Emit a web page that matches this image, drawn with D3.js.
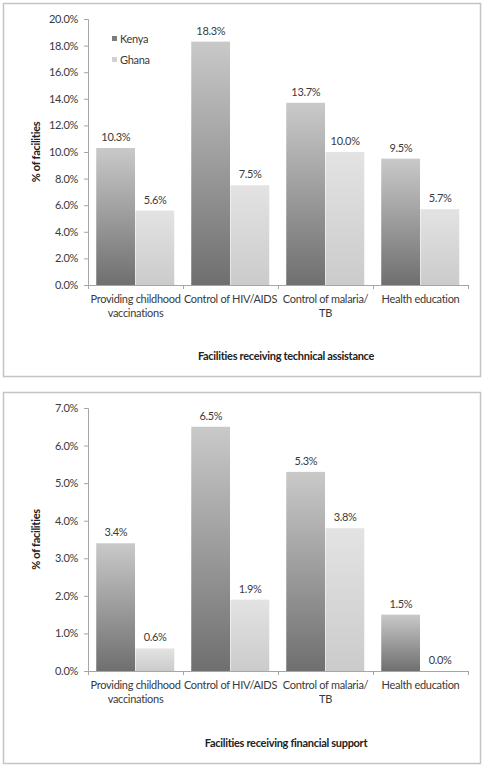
<!DOCTYPE html>
<html><head><meta charset="utf-8">
<script src="https://cdn.jsdelivr.net/npm/d3@7"></script>
<style>
body{margin:0;background:#fff;}
svg text{font-family:Lato,"Open Sans",sans-serif;letter-spacing:-0.3px;}
</style></head>
<body><svg id="c" width="484" height="767"></svg>
<script>
const categories = ["Providing childhood vaccinations","Control of HIV/AIDS","Control of malaria/ TB","Health education"];
const categoryLines = [["Providing childhood","vaccinations"],["Control of HIV/AIDS"],["Control of malaria/","TB"],["Health education"]];
const seriesNames = ["Kenya","Ghana"];
const techKenya = [10.3, 18.3, 13.7, 9.5];
const techGhana = [5.6, 7.5, 10.0, 5.7];
const finKenya = [3.4, 6.5, 5.3, 1.5];
const finGhana = [0.6, 1.9, 3.8, 0.0];
const techTicks = [0,2,4,6,8,10,12,14,16,18,20];
const finTicks = [0,1,2,3,4,5,6,7];
const yTitle = "% of facilities";
const techTitle = "Facilities receiving technical assistance";
const finTitle = "Facilities receiving financial support";

const svg = d3.select("#c");
const defs = svg.append("defs");
function grad(id, top, bottom){
  const g = defs.append("linearGradient").attr("id", id).attr("x1",0).attr("y1",0).attr("x2",0).attr("y2",1);
  g.append("stop").attr("offset","0%").attr("stop-color",top);
  g.append("stop").attr("offset","100%").attr("stop-color",bottom);
}
grad("gK","#c9c9c9","#6f6f6f");
grad("gG","#e3e3e3","#cbcbcb");
const fills = ["url(#gK)","url(#gG)"];
const textColor = "#3a3a3a";
const axisColor = "#a6a6a6";
const fs = "11px";

function panel(opt){
  const g = svg.append("g");
  g.append("rect").attr("x",opt.box[0]+0.5).attr("y",opt.box[1]+0.5)
    .attr("width",opt.box[2]-opt.box[0]).attr("height",opt.box[3]-opt.box[1])
    .attr("fill","#fff").attr("stroke","#c4c4c4").attr("stroke-width",1.5);
  const x0 = d3.scaleBand().domain(categories).range([88,468]).paddingInner(0).paddingOuter(0);
  const x1 = d3.scaleBand().domain(seriesNames).range([0,x0.bandwidth()]).paddingInner(0).paddingOuter(0.21);
  const y = d3.scaleLinear().domain([0,opt.max]).range([opt.bottom,opt.top]);

  // y axis
  const ya = g.append("g").attr("transform","translate(88,0)")
    .call(d3.axisLeft(y).tickValues(opt.ticks).tickFormat(d=>d.toFixed(1)+"%").tickSize(4).tickPadding(6));
  ya.select(".domain").attr("stroke",axisColor);
  ya.selectAll(".tick line").attr("stroke",axisColor);
  ya.selectAll(".tick text").attr("fill",textColor).style("font-size",fs);

  // bars
  const data = [opt.k, opt.g];
  categories.forEach((c,i)=>{
    seriesNames.forEach((s,j)=>{
      const v = data[j][i];
      g.append("rect").attr("x",x0(c)+x1(s)).attr("width",x1.bandwidth()-0.5)
        .attr("y",y(v)).attr("height",Math.max(0,y(0)-y(v))).attr("fill",fills[j]);
      g.append("text").attr("x",x0(c)+x1(s)+x1.bandwidth()/2).attr("y",y(v)-7)
        .attr("text-anchor","middle").attr("fill",textColor).style("font-size",fs)
        .text(v.toFixed(1)+"%");
    });
  });

  // x axis
  const xa = g.append("g").attr("transform",`translate(0,${opt.bottom})`)
    .call(d3.axisBottom(x0).tickValues([]).tickSize(0));
  xa.select(".domain").attr("stroke",axisColor);
  const bounds = categories.map(c=>x0(c)).concat([x0.range()[1]]);
  bounds.forEach(b=>g.append("line").attr("x1",b+0.5).attr("x2",b+0.5).attr("y1",opt.bottom).attr("y2",opt.bottom+4).attr("stroke",axisColor));
  categories.forEach((c,i)=>{
    const t = g.append("text").attr("text-anchor","middle").attr("fill",textColor).style("font-size",fs);
    categoryLines[i].forEach((ln,k)=>{
      t.append("tspan").attr("x",x0(c)+x0.bandwidth()/2).attr("y",opt.bottom+18+k*13.5).text(ln);
    });
  });

  // titles
  g.append("text").attr("x",286).attr("y",opt.titleY).attr("text-anchor","middle")
    .attr("fill","#222").style("font-size",fs).style("font-weight","bold").text(opt.title);
  g.append("text").attr("transform",`translate(40,${(opt.top+opt.bottom)/2}) rotate(-90)`)
    .attr("text-anchor","middle").attr("fill","#222").style("font-size",fs).style("font-weight","bold").text(yTitle);

  if(opt.legend){
    seriesNames.forEach((s,j)=>{
      g.append("rect").attr("x",112).attr("y",opt.top+17+j*21).attr("width",5).attr("height",5)
        .attr("fill",j===0?"#7d7d7d":"#d2d2d2");
      g.append("text").attr("x",120).attr("y",opt.top+24+j*21).attr("fill",textColor)
        .style("font-size",fs).text(s);
    });
  }
}

panel({box:[3,3,480,376], top:19, bottom:285, max:20, ticks:techTicks, k:techKenya, g:techGhana, title:techTitle, titleY:360, legend:true});
panel({box:[3,392,480,763], top:408, bottom:671, max:7, ticks:finTicks, k:finKenya, g:finGhana, title:finTitle, titleY:747, legend:false});
</script></body></html>
